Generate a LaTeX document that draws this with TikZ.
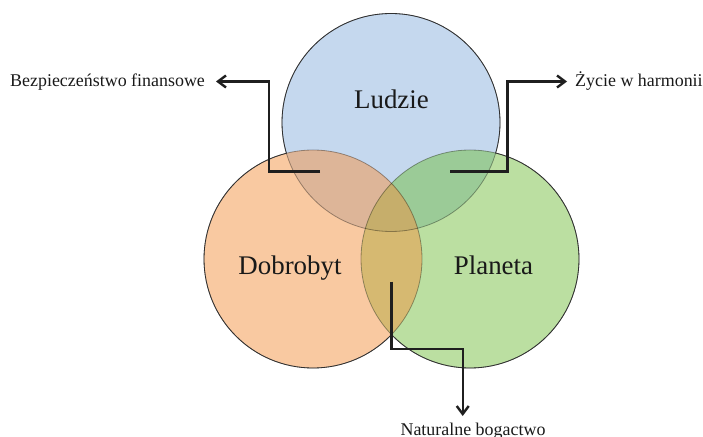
\documentclass[tikz,border=0pt]{standalone}
\usepackage{fontspec}
\setmainfont{Liberation Serif}
\usetikzlibrary{arrows.meta}
\definecolor{cLud}{HTML}{C5D8EE}
\definecolor{cDob}{HTML}{F9C9A1}
\definecolor{cPla}{HTML}{BBDFA1}
\definecolor{cLD}{HTML}{DDB598}
\definecolor{cLP}{HTML}{9BCB97}
\definecolor{cDP}{HTML}{D6B971}
\definecolor{cLDP}{HTML}{C6AE6B}
\definecolor{edge}{HTML}{303030}
\tikzset{
  biglabel/.style={font=\fontsize{27}{30}\selectfont, inner sep=0pt, anchor=base, text=black!90},
  smalllabel/.style={font=\fontsize{18}{20}\selectfont, inner sep=0pt, text=black!90},
  conn/.style={line width=2.4bp, draw=black!88, -{Straight Barb[length=8bp,width=12bp]}},
  rim/.style={draw=edge, line width=0.8bp},
  innerrim/.style={draw=black, draw opacity=0.35, line width=0.8bp}
}
\begin{document}
\begin{tikzpicture}[x=1bp,y=-1bp]
\useasboundingbox (0,0) rectangle (703,437);
\coordinate (cL) at (391,122.5);
\coordinate (cD) at (313,259);
\coordinate (cP) at (470,259);
\def\R{109bp}
% base fills
\fill[cLud] (cL) circle[radius=\R];
\fill[cDob] (cD) circle[radius=\R];
\fill[cPla] (cP) circle[radius=\R];
% pairwise overlaps
\begin{scope}
  \clip (cL) circle[radius=\R];
  \fill[cLD] (cD) circle[radius=\R];
  \fill[cLP] (cP) circle[radius=\R];
\end{scope}
\begin{scope}
  \clip (cD) circle[radius=\R];
  \fill[cDP] (cP) circle[radius=\R];
\end{scope}
\begin{scope}
  \clip (cL) circle[radius=\R];
  \clip (cD) circle[radius=\R];
  \fill[cLDP] (cP) circle[radius=\R];
\end{scope}
% faint inner arcs
\draw[innerrim] (cL) circle[radius=\R];
\draw[innerrim] (cD) circle[radius=\R];
\draw[innerrim] (cP) circle[radius=\R];
% dark outer arcs
\begin{scope}[even odd rule]
  \clip (-20,-20) rectangle (730,460) (cD) circle[radius=\R];
  \clip (-20,-20) rectangle (730,460) (cP) circle[radius=\R];
  \draw[rim] (cL) circle[radius=\R];
\end{scope}
\begin{scope}[even odd rule]
  \clip (-20,-20) rectangle (730,460) (cL) circle[radius=\R];
  \clip (-20,-20) rectangle (730,460) (cP) circle[radius=\R];
  \draw[rim] (cD) circle[radius=\R];
\end{scope}
\begin{scope}[even odd rule]
  \clip (-20,-20) rectangle (730,460) (cL) circle[radius=\R];
  \clip (-20,-20) rectangle (730,460) (cD) circle[radius=\R];
  \draw[rim] (cP) circle[radius=\R];
\end{scope}
% main labels
\node[biglabel] (ludzie) at (391.5,109) {Ludzie};
\node[biglabel] (dobrobyt) at (290,275) {Dobrobyt};
\node[biglabel] (planeta) at (493.5,275) {Planeta};
% side labels
\node[smalllabel, anchor=base west] (bez) at (10,86.5) {Bezpieczeństwo finansowe};
\node[smalllabel, anchor=base west] (zyc) at (575,86.5) {Życie w harmonii};
\node[smalllabel, anchor=base] (nat) at (473,435.5) {Naturalne bogactwo};
% connector coordinates
\coordinate (s1) at (320,171.7);
\coordinate (k1) at (268.7,171.7);
\coordinate (k1b) at (268.7,81.5);
\coordinate (t1) at (216,81.5);
\coordinate (s2) at (450,171.7);
\coordinate (k2) at (507.3,171.7);
\coordinate (k2b) at (507.3,81.5);
\coordinate (t2) at (567,81.5);
\coordinate (s3) at (391.3,281.7);
\coordinate (k3) at (391.3,349);
\coordinate (k3b) at (462.7,349);
\coordinate (t3) at (462.7,416);
\draw[conn] (s1) -- (k1) -- (k1b) -- (t1);
\draw[conn] (s2) -- (k2) -- (k2b) -- (t2);
\draw[conn] (s3) -- (k3) -- (k3b) -- (t3);
\end{tikzpicture}
\end{document}
